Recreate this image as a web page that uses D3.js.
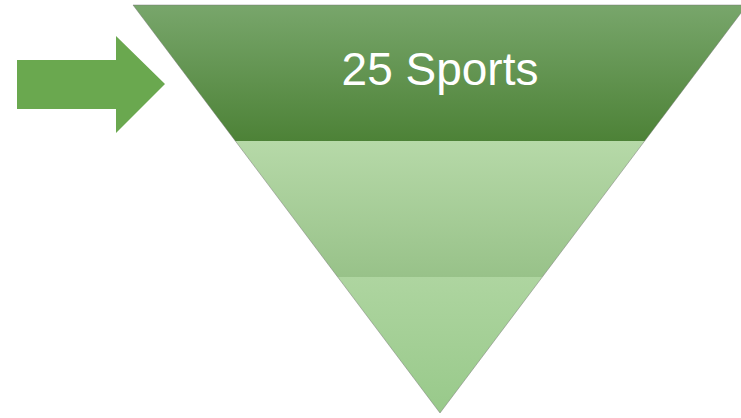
<!DOCTYPE html>
<html>
<head>
<meta charset="utf-8">
<script src="https://cdn.jsdelivr.net/npm/d3@7"></script>
<style>
  body { margin: 0; background: #fff; }
  svg { display: block; }
</style>
</head>
<body>
<div id="chart"></div>
<script>
// funnel layers, top to bottom
let layers = ['25 Sports', '', ''];
let layerTop = ['#78a66b', '#b6d9a8', '#aed5a0'];
let layerBottom = ['#4d8237', '#98c289', '#98c98a'];

let width = 741,
    height = 418;

let svg = d3.select('#chart').append('svg')
  .attr('width', width)
  .attr('height', height);

let cx = 440;
// y position along the funnel (layer index -> px)
let y = d3.scaleLinear().domain([0, layers.length]).range([5, 413]);
// half width of the funnel at a given layer index
let half = d3.scaleLinear().domain([0, layers.length]).range([307, 0]);

let defs = svg.append('defs');
layers.forEach((l, i) => {
  let g = defs.append('linearGradient')
    .attr('id', 'grad' + i)
    .attr('x1', 0).attr('y1', 0).attr('x2', 0).attr('y2', 1);
  g.append('stop').attr('offset', '0%').attr('stop-color', layerTop[i]);
  g.append('stop').attr('offset', '100%').attr('stop-color', layerBottom[i]);
});

let layerPath = (i) => {
  let y0 = y(i), y1 = y(i + 1);
  let h0 = half(i), h1 = half(i + 1);
  return 'M' + (cx - h0) + ',' + y0 +
    'L' + (cx + h0) + ',' + y0 +
    'L' + (cx + h1) + ',' + y1 +
    'L' + (cx - h1) + ',' + y1 + 'Z';
};

svg.selectAll('path.layer')
  .data(layers)
  .enter()
  .append('path')
  .attr('class', 'layer')
  .attr('d', (d, i) => layerPath(i))
  .style('fill', (d, i) => 'url(#grad' + i + ')');

/* contour gris léger */
svg.append('path')
  .attr('d', 'M' + (cx - half(0)) + ',' + y(0) +
    'L' + (cx + half(0)) + ',' + y(0) +
    'L' + cx + ',' + y(layers.length) + 'Z')
  .style('fill', 'none')
  .style('stroke', 'rgba(110,110,110,0.45)')
  .style('stroke-width', 1);

svg.selectAll('text.label')
  .data(layers)
  .enter()
  .append('text')
  .attr('class', 'label')
  .attr('x', cx)
  .attr('y', (d, i) => y(i) + 80)
  .attr('text-anchor', 'middle')
  .style('font-family', '"Liberation Sans", Arial, sans-serif')
  .style('font-size', '46px')
  .style('fill', '#fff')
  .text(d => d);

/* flèche */
let arrow = [[17, 60], [116, 60], [116, 36], [165, 84], [116, 133], [116, 109], [17, 109]];
svg.append('path')
  .attr('d', d3.line()(arrow) + 'Z')
  .style('fill', '#6aa84f');
</script>
</body>
</html>
